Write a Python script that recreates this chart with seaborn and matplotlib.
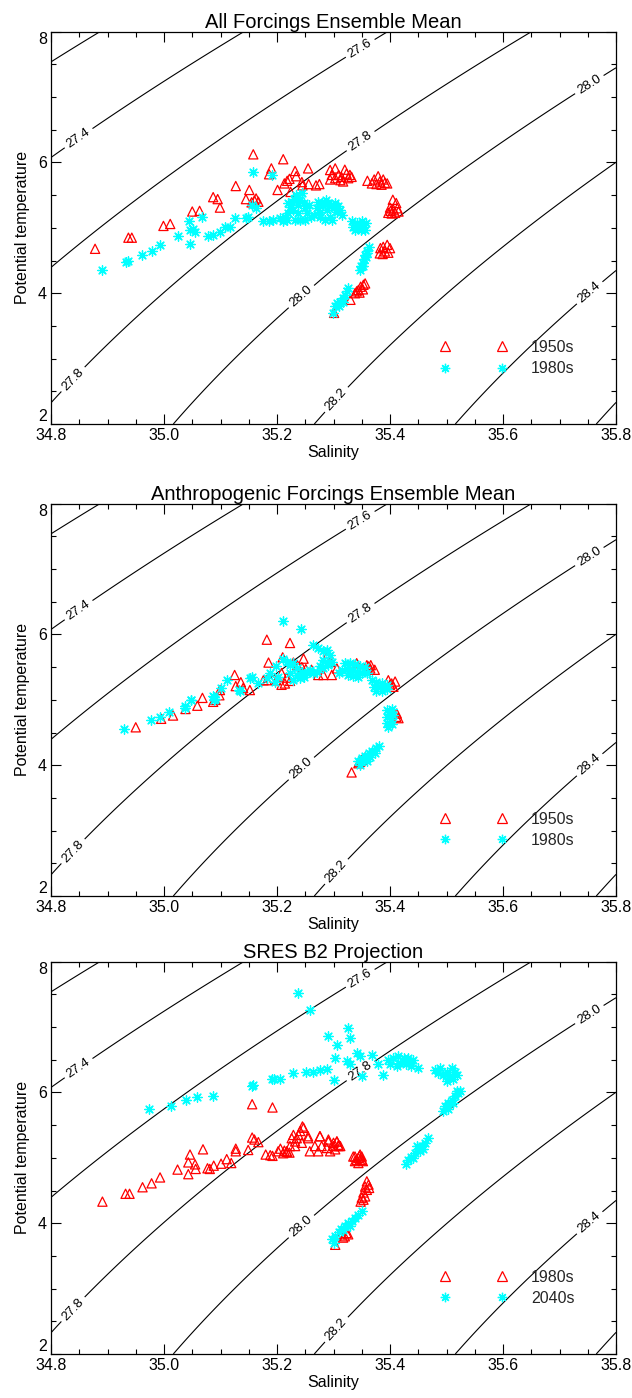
import numpy as np
import pandas as pd
import matplotlib
matplotlib.use("Agg")
import matplotlib.pyplot as plt
from matplotlib.lines import Line2D
from matplotlib.ticker import MultipleLocator
import seaborn as sns

# ---------------- text / axes values ----------------
titles = ["All Forcings Ensemble Mean",
          "Anthropogenic Forcings Ensemble Mean",
          "SRES B2 Projection"]
legend_labels = [("1950s", "1980s"), ("1950s", "1980s"), ("1980s", "2040s")]
x_label = "Salinity"
y_label = "Potential temperature"
x_ticks = [34.8, 35.0, 35.2, 35.4, 35.6, 35.8]
y_ticks = [2, 4, 6, 8]
density_levels = [27.2, 27.4, 27.6, 27.8, 28.0, 28.2, 28.4, 28.6]
label_spots = [(34.845, 6.42), (35.347, 7.75), (35.347, 6.34), (34.837, 2.70),
               (35.241, 3.97), (35.750, 7.23), (35.303, 2.39), (35.750, 4.04)]

# ---------------- data (salinity, potential temperature) ----------------
allf_1950s = [
    (34.878, 4.68), (34.937, 4.85), (34.943, 4.85), (34.999, 5.03), (35.011, 5.06),
    (35.050, 5.25), (35.063, 5.26), (35.087, 5.47), (35.095, 5.44), (35.099, 5.31),
    (35.127, 5.64), (35.151, 5.58), (35.145, 5.44), (35.155, 5.39), (35.163, 5.45),
    (35.160, 5.42), (35.167, 5.40), (35.158, 6.125), (35.211, 6.05), (35.190, 5.91),
    (35.186, 5.82), (35.201, 5.58), (35.213, 5.68), (35.218, 5.72), (35.222, 5.75),
    (35.224, 5.55), (35.232, 5.87), (35.234, 5.79), (35.244, 5.70), (35.245, 5.65),
    (35.255, 5.91), (35.256, 5.67), (35.269, 5.65), (35.275, 5.67),
    (35.294, 5.885), (35.303, 5.91), (35.297, 5.81), (35.309, 5.81), (35.314, 5.78),
    (35.320, 5.89), (35.323, 5.83), (35.326, 5.76), (35.329, 5.81), (35.332, 5.78),
    (35.312, 5.73), (35.303, 5.76), (35.294, 5.74), (35.317, 5.71),
    (35.360, 5.72), (35.372, 5.74), (35.379, 5.79), (35.382, 5.71), (35.388, 5.74),
    (35.395, 5.68), (35.376, 5.67), (35.385, 5.66), (35.391, 5.69), (35.368, 5.68),
    (35.405, 5.43), (35.411, 5.38), (35.400, 5.31), (35.406, 5.28), (35.413, 5.30),
    (35.397, 5.23), (35.403, 5.22), (35.409, 5.23), (35.415, 5.25), (35.401, 5.26),
    (35.383, 4.69), (35.388, 4.71), (35.395, 4.74), (35.400, 4.69), (35.391, 4.64),
    (35.382, 4.61), (35.397, 4.62), (35.387, 4.60),
    (35.338, 4.00), (35.344, 4.05), (35.348, 4.10), (35.353, 4.13), (35.356, 4.15),
    (35.346, 4.01), (35.352, 4.06), (35.341, 4.03), (35.330, 3.90), (35.301, 3.70),
]
allf_1980s = [
    (34.891, 4.35), (34.932, 4.48), (34.937, 4.50), (34.961, 4.59), (34.978, 4.64),
    (34.993, 4.74), (35.024, 4.87), (35.044, 5.10), (35.046, 4.97), (35.046, 4.76),
    (35.055, 4.94), (35.052, 4.99), (35.068, 5.16), (35.078, 4.87), (35.087, 4.89),
    (35.099, 4.94), (35.108, 5.01), (35.116, 5.02), (35.126, 5.15), (35.146, 5.15),
    (35.149, 5.17), (35.157, 5.86), (35.191, 5.81), (35.155, 5.35), (35.163, 5.30),
    (35.176, 5.10), (35.185, 5.10), (35.193, 5.12),
    (35.205, 5.15), (35.214, 5.17), (35.220, 5.22), (35.223, 5.32), (35.226, 5.40),
    (35.230, 5.44), (35.235, 5.47), (35.244, 5.53), (35.247, 5.38), (35.253, 5.22),
    (35.238, 5.22), (35.232, 5.12), (35.217, 5.12), (35.211, 5.11), (35.241, 5.12),
    (35.250, 5.12), (35.257, 5.35), (35.260, 5.17), (35.229, 5.27), (35.238, 5.35),
    (35.220, 5.38), (35.233, 5.50), (35.240, 5.42), (35.250, 5.30),
    (35.270, 5.30), (35.276, 5.17), (35.282, 5.35), (35.288, 5.27), (35.294, 5.17),
    (35.300, 5.30), (35.306, 5.25), (35.311, 5.27), (35.297, 5.12), (35.285, 5.12),
    (35.279, 5.38), (35.273, 5.40), (35.291, 5.38), (35.303, 5.38), (35.315, 5.20),
    (35.276, 5.25), (35.286, 5.42), (35.296, 5.34), (35.308, 5.33), (35.265, 5.20),
    (35.332, 5.10), (35.341, 5.08), (35.350, 5.10), (35.358, 5.07), (35.335, 5.02),
    (35.344, 5.01), (35.353, 5.02), (35.338, 4.96), (35.348, 4.96), (35.356, 4.97),
    (35.362, 4.71), (35.359, 4.65), (35.356, 4.59), (35.354, 4.52), (35.352, 4.46),
    (35.349, 4.41), (35.347, 4.35), (35.353, 4.41), (35.358, 4.56), (35.360, 4.61),
    (35.299, 3.70), (35.302, 3.80), (35.306, 3.85), (35.312, 3.87), (35.316, 3.92),
    (35.320, 3.97), (35.323, 4.03), (35.326, 4.08), (35.309, 3.80), (35.317, 3.86),
]
anth_1950s = [
    (34.950, 4.58), (34.995, 4.71), (35.016, 4.76), (35.038, 4.86), (35.059, 4.91),
    (35.068, 5.03), (35.091, 5.00), (35.099, 5.15), (35.125, 5.38), (35.136, 5.27),
    (35.087, 4.97), (35.098, 5.07), (35.182, 5.92), (35.223, 5.87), (35.185, 5.57),
    (35.210, 5.65), (35.229, 5.57), (35.236, 5.53), (35.247, 5.63), (35.244, 5.50),
    (35.251, 5.47), (35.208, 5.41), (35.217, 5.34), (35.223, 5.29), (35.214, 5.25),
    (35.208, 5.23), (35.199, 5.30), (35.182, 5.30), (35.176, 5.30), (35.152, 5.15),
    (35.140, 5.18), (35.127, 5.21), (35.261, 5.46), (35.273, 5.38), (35.282, 5.38),
    (35.297, 5.38), (35.306, 5.48), (35.294, 5.58), (35.288, 5.66), (35.341, 5.56),
    (35.359, 5.53), (35.365, 5.48), (35.373, 5.46), (35.362, 5.51), (35.366, 5.53),
    (35.397, 5.30), (35.403, 5.25), (35.406, 5.20), (35.400, 5.23), (35.409, 5.28),
    (35.412, 4.79), (35.411, 4.74), (35.415, 4.72), (35.332, 3.89), (35.344, 4.03),
    (35.350, 4.08), (35.356, 4.12), (35.347, 4.05),
]
anth_1980s = [
    (34.929, 4.55), (34.977, 4.69), (34.993, 4.73), (35.009, 4.82), (35.038, 4.88),
    (35.048, 4.99), (35.088, 5.04), (35.088, 4.99), (35.037, 4.90), (35.047, 4.99),
    (35.087, 5.06), (35.090, 5.02), (35.100, 5.18), (35.111, 5.30), (35.132, 5.15),
    (35.135, 5.13), (35.152, 5.33), (35.155, 5.35), (35.167, 5.25), (35.182, 5.33),
    (35.188, 5.41), (35.196, 5.28), (35.199, 5.51), (35.202, 5.35), (35.211, 6.21),
    (35.242, 6.08), (35.263, 5.84), (35.273, 5.79), (35.282, 5.74), (35.288, 5.76),
    (35.294, 5.69), (35.297, 5.58), (35.291, 5.53), (35.282, 5.48), (35.211, 5.63),
    (35.217, 5.58), (35.223, 5.53), (35.229, 5.56), (35.235, 5.48), (35.244, 5.43),
    (35.253, 5.41), (35.258, 5.46), (35.264, 5.41), (35.270, 5.43), (35.276, 5.51),
    (35.282, 5.61), (35.288, 5.56), (35.223, 5.41), (35.235, 5.38), (35.247, 5.35),
    (35.229, 5.30), (35.241, 5.33),
    (35.320, 5.56), (35.329, 5.57), (35.338, 5.55), (35.347, 5.52), (35.356, 5.50),
    (35.323, 5.47), (35.332, 5.46), (35.341, 5.43), (35.350, 5.41), (35.326, 5.38),
    (35.335, 5.36), (35.344, 5.35), (35.315, 5.46), (35.309, 5.41), (35.359, 5.41),
    (35.368, 5.30), (35.376, 5.28), (35.385, 5.25), (35.394, 5.23), (35.371, 5.20),
    (35.379, 5.19), (35.388, 5.18), (35.395, 5.16), (35.375, 5.14), (35.385, 5.13),
    (35.395, 4.85), (35.403, 4.86), (35.399, 4.79), (35.406, 4.77), (35.394, 4.73),
    (35.401, 4.70), (35.395, 4.65), (35.403, 4.63), (35.397, 4.59),
    (35.344, 4.06), (35.350, 4.11), (35.356, 4.14), (35.362, 4.18), (35.368, 4.21),
    (35.375, 4.26), (35.381, 4.29), (35.353, 4.08), (35.365, 4.13), (35.373, 4.18),
    (35.347, 4.00), (35.359, 4.06),
]
sres_1980s = [
    (34.891, 4.33), (34.932, 4.45), (34.939, 4.45), (34.962, 4.55), (34.978, 4.61),
    (34.993, 4.70), (35.024, 4.82), (35.043, 4.75), (35.046, 5.05), (35.043, 4.93),
    (35.055, 4.90), (35.056, 4.83), (35.069, 5.13), (35.077, 4.84), (35.081, 4.83),
    (35.088, 4.88), (35.101, 4.91), (35.111, 4.98), (35.119, 4.92), (35.127, 5.10),
    (35.127, 5.14), (35.149, 5.12), (35.156, 5.82), (35.192, 5.77), (35.156, 5.31),
    (35.160, 5.28), (35.167, 5.24), (35.180, 5.05), (35.188, 5.04), (35.192, 5.03),
    (35.206, 5.14), (35.213, 5.11), (35.218, 5.09), (35.222, 5.08),
    (35.226, 5.30), (35.229, 5.35), (35.232, 5.25), (35.235, 5.30), (35.238, 5.35),
    (35.241, 5.41), (35.245, 5.48), (35.244, 5.23), (35.223, 5.18), (35.232, 5.18),
    (35.217, 5.10), (35.211, 5.07), (35.202, 5.10), (35.255, 5.30), (35.258, 5.10),
    (35.267, 5.18), (35.276, 5.33), (35.279, 5.18), (35.291, 5.25), (35.294, 5.10),
    (35.300, 5.23), (35.306, 5.25), (35.309, 5.18), (35.273, 5.10), (35.288, 5.15),
    (35.303, 5.13), (35.247, 5.46), (35.255, 5.33), (35.276, 5.33), (35.291, 5.28),
    (35.306, 5.25), (35.309, 5.20), (35.300, 5.18), (35.312, 5.18),
    (35.335, 5.02), (35.341, 4.97), (35.347, 4.97), (35.350, 5.02), (35.344, 4.92),
    (35.352, 4.95), (35.338, 4.95), (35.346, 5.03), (35.338, 5.02), (35.344, 5.00),
    (35.350, 4.97), (35.347, 5.05),
    (35.359, 4.64), (35.362, 4.59), (35.356, 4.56), (35.359, 4.51), (35.353, 4.47),
    (35.356, 4.41), (35.350, 4.39), (35.348, 4.33), (35.363, 4.54), (35.353, 4.36),
    (35.314, 3.83), (35.320, 3.80), (35.326, 3.83), (35.317, 3.78), (35.323, 3.85),
    (35.303, 3.67),
]
sres_2040s = [
    (34.974, 5.74), (35.012, 5.80), (35.039, 5.88), (35.059, 5.93), (35.087, 5.95),
    (35.155, 6.10), (35.158, 6.12), (35.191, 6.20), (35.194, 6.21), (35.205, 6.20),
    (35.229, 6.29), (35.237, 7.52), (35.258, 7.26), (35.252, 6.32), (35.264, 6.32),
    (35.276, 6.34), (35.288, 6.36), (35.291, 6.86), (35.306, 6.73), (35.301, 6.19),
    (35.326, 6.99), (35.330, 6.83), (35.303, 6.53), (35.323, 6.48), (35.329, 6.43),
    (35.341, 6.60), (35.347, 6.55), (35.350, 6.25), (35.368, 6.58), (35.379, 6.43),
    (35.387, 6.26),
    (35.397, 6.50), (35.406, 6.53), (35.415, 6.55), (35.424, 6.53), (35.432, 6.53),
    (35.441, 6.50), (35.418, 6.45), (35.429, 6.43), (35.438, 6.40), (35.450, 6.38),
    (35.400, 6.43), (35.412, 6.40), (35.427, 6.48), (35.435, 6.46),
    (35.480, 6.35), (35.488, 6.375), (35.500, 6.32), (35.509, 6.375), (35.515, 6.32),
    (35.494, 6.27), (35.506, 6.25), (35.500, 6.17), (35.512, 6.20), (35.518, 6.27),
    (35.485, 6.30),
    (35.521, 5.99), (35.515, 5.94), (35.509, 5.89), (35.503, 5.84), (35.497, 5.79),
    (35.494, 5.71), (35.518, 6.02), (35.524, 6.02), (35.503, 5.74), (35.512, 5.84),
    (35.468, 5.30), (35.462, 5.23), (35.456, 5.18), (35.450, 5.13), (35.444, 5.07),
    (35.438, 5.02), (35.432, 4.97), (35.428, 4.91), (35.441, 5.00), (35.453, 5.10),
    (35.447, 5.18), (35.459, 5.13),
    (35.350, 4.18), (35.344, 4.13), (35.338, 4.08), (35.332, 4.03), (35.326, 4.00),
    (35.320, 3.95), (35.314, 3.91), (35.309, 3.86), (35.303, 3.81), (35.297, 3.76),
    (35.300, 3.70), (35.317, 3.90), (35.329, 3.96),
]

panel_series = [(allf_1950s, allf_1980s), (anth_1950s, anth_1980s), (sres_1980s, sres_2040s)]

# ---------------- seawater density (UNESCO EOS-80 surface form) ----------------
def sigma0(S, T):
    rw = (999.842594 + 6.793952e-2 * T - 9.095290e-3 * T**2 + 1.001685e-4 * T**3
          - 1.120083e-6 * T**4 + 6.536332e-9 * T**5)
    A = 0.824493 - 4.0899e-3 * T + 7.6438e-5 * T**2 - 8.2467e-7 * T**3 + 5.3875e-9 * T**4
    B = -5.72466e-3 + 1.0227e-4 * T - 1.6546e-6 * T**2
    C = 4.8314e-4
    return rw + A * S + B * S**1.5 + C * S**2 - 1000.0

# the reference isopycnals sit a little to the fresh side of the p=0 ones
sigma_shift = 0.015
sg, tg = np.meshgrid(np.linspace(34.8, 35.8, 301), np.linspace(2.0, 8.0, 301))
sig = sigma0(sg, tg) + sigma_shift

# ---------------- style ----------------
sns.set_theme(style="ticks")
plt.rcParams["font.family"] = ["Liberation Sans", "DejaVu Sans"]
plt.rcParams["axes.linewidth"] = 0.9

red = "#ff0000"
cyan = "#00ffff"
ast = (8, 2, 0)

fig = plt.figure(figsize=(6.32, 13.98), dpi=100)
bottoms = [0.6967, 0.3591, 0.0315]

for i, y0 in enumerate(bottoms):
    ax = fig.add_axes([0.0807, y0, 0.894, 0.2806])
    ax.set_facecolor("white")
    cs = ax.contour(sg, tg, sig, levels=density_levels, colors="black", linewidths=0.8, zorder=1)
    ax.clabel(cs, manual=label_spots, inline=True, inline_spacing=4,
              fmt="%.1f", fontsize=9.5, colors="black")

    early, late = panel_series[i]
    df_a = pd.DataFrame(early, columns=["salinity", "temperature"])
    df_b = pd.DataFrame(late, columns=["salinity", "temperature"])
    sns.scatterplot(data=df_a, x="salinity", y="temperature", ax=ax, marker="^", s=44,
                    color=red, facecolor="none", edgecolor=red, linewidth=0.9,
                    legend=False, zorder=4)
    sns.scatterplot(data=df_b, x="salinity", y="temperature", ax=ax, marker=ast, s=46,
                    color=cyan, linewidth=0.95, legend=False, zorder=5)

    ax.set_xlim(34.8, 35.8)
    ax.set_ylim(2, 8)
    ax.set_xticks(x_ticks)
    ax.set_xticklabels([f"{v:.1f}" for v in x_ticks])
    ax.set_yticks(y_ticks)
    ax.set_yticklabels([str(v) for v in y_ticks])
    ax.xaxis.set_minor_locator(MultipleLocator(0.05))
    ax.yaxis.set_minor_locator(MultipleLocator(0.5))
    ax.tick_params(which="both", direction="in", top=True, right=True,
                   color="black", width=0.8)
    ax.tick_params(which="major", length=7.5, labelsize=11.5, labelcolor="black")
    ax.tick_params(which="minor", length=3.5)
    ax.tick_params(axis="x", which="major", pad=3)
    ax.tick_params(axis="y", which="major", pad=3)
    for sp in ax.spines.values():
        sp.set_visible(True)
        sp.set_color("black")
        sp.set_linewidth(0.9)

    ax.set_title(titles[i], fontsize=14.5, pad=2.5, color="black")
    ax.set_xlabel(x_label, fontsize=11.5, color="black")
    ax.set_ylabel(y_label, fontsize=11.5, color="black")
    ax.xaxis.set_label_coords(0.5, -0.054)
    ax.yaxis.set_label_coords(-0.038, 0.5)

    ylabs = ax.get_yticklabels()
    ylabs[0].set_verticalalignment("bottom")
    ylabs[-1].set_verticalalignment("top")

    handles = [
        Line2D([], [], ls="none", marker="^", mfc="none", mec=red, ms=6.6, mew=0.9),
        Line2D([], [], ls="none", marker=ast, mec=cyan, ms=6.8, mew=0.95),
    ]
    ax.legend(handles, list(legend_labels[i]), numpoints=2, frameon=False,
              loc="center left", bbox_to_anchor=(35.4895, 3.01),
              bbox_transform=ax.transData, borderpad=0, borderaxespad=0,
              handlelength=4.17, handletextpad=1.5, labelspacing=0.39,
              fontsize=11.5)

fig.savefig("out.png", dpi=100, facecolor="white")
